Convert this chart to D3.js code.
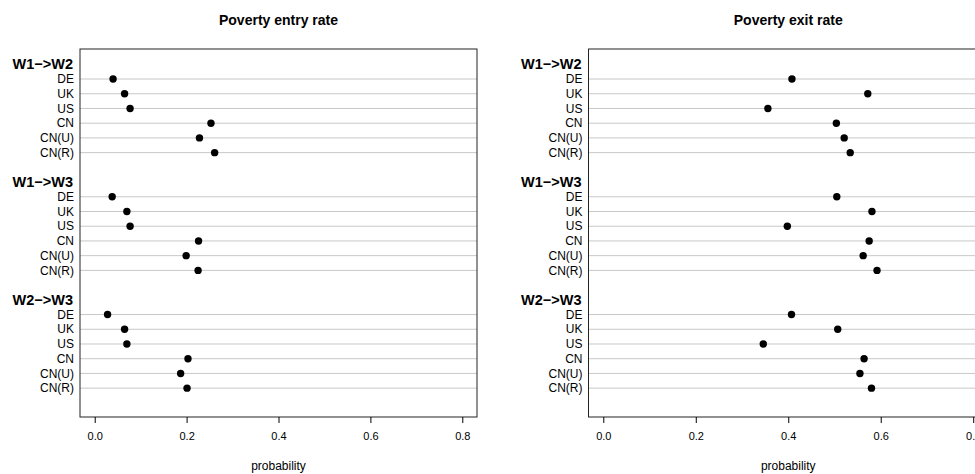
<!DOCTYPE html>
<meta charset="utf-8">
<style>
body { margin: 0; background: #fff; }
svg { font-family: "Liberation Sans", Arial, sans-serif; }
.tick text { font-size: 11px; fill: #000; }
.tick line { stroke: #000; }
</style>
<svg width="975" height="474"></svg>
<script src="https://cdn.jsdelivr.net/npm/d3@7"></script>
<script>

// groups and the countries inside each group (top to bottom)
var groups = ["W1\u2212>W2", "W1\u2212>W3", "W2\u2212>W3"];
var countries = ["DE", "UK", "US", "CN", "CN(U)", "CN(R)"];
var xTicks = [0, 0.2, 0.4, 0.6, 0.8];

// poverty entry rate, one array per group
var entryW1W2 = [0.040, 0.065, 0.077, 0.253, 0.228, 0.261];
var entryW1W3 = [0.038, 0.070, 0.077, 0.226, 0.199, 0.225];
var entryW2W3 = [0.028, 0.065, 0.070, 0.203, 0.187, 0.201];

// poverty exit rate
var exitW1W2 = [0.408, 0.572, 0.356, 0.504, 0.521, 0.534];
var exitW1W3 = [0.505, 0.581, 0.398, 0.575, 0.562, 0.592];
var exitW2W3 = [0.407, 0.507, 0.346, 0.564, 0.555, 0.580];

var panels = [
  {title: "Poverty entry rate", series: [entryW1W2, entryW1W3, entryW2W3], left: 80, right: 477},
  {title: "Poverty exit rate", series: [exitW1W2, exitW1W3, exitW2W3], left: 588.5, right: 988}
];

var plotTop = 49, plotBottom = 417;
var svg = d3.select("svg");

// dotchart-style row positions: items 1..n from the bottom, 2 extra rows between groups
function rowPos(gi, ci) {
  var g = groups.length - 1 - gi;
  return g * (countries.length + 2) + (countries.length - ci);
}

var y = d3.scaleLinear().domain([-0.96, 24.04]).range([plotBottom, plotTop]);

panels.forEach(function(p) {
  var x = d3.scaleLinear().domain([-0.032, 0.832]).range([p.left, p.right]);
  var g = svg.append("g");

  groups.forEach(function(grp, gi) {
    // grid lines
    g.selectAll(null)
      .data(countries)
      .enter().append("line")
      .attr("x1", p.left).attr("x2", p.right)
      .attr("y1", (d, ci) => y(rowPos(gi, ci)))
      .attr("y2", (d, ci) => y(rowPos(gi, ci)))
      .attr("stroke", "#c8c8c8")
      .attr("stroke-width", 1);

    g.selectAll(null)
      .data(countries)
      .enter().append("text")
      .attr("x", p.left - 6)
      .attr("y", (d, ci) => y(rowPos(gi, ci)))
      .attr("dy", "0.35em")
      .attr("text-anchor", "end")
      .attr("font-size", "12px")
      .text(d => d);

    g.append("text")
      .attr("x", p.left - 7)
      .attr("y", y(rowPos(gi, 0) + 1))
      .attr("dy", "0.35em")
      .attr("text-anchor", "end")
      .attr("font-size", "14.5px")
      .attr("font-weight", "bold")
      .text(grp);

    g.selectAll(null)
      .data(p.series[gi])
      .enter().append("circle")
      .attr("cx", d => x(d))
      .attr("cy", (d, ci) => y(rowPos(gi, ci)))
      .attr("r", 3.7)
      .attr("fill", "#000");
  });

  // box
  g.append("rect")
    .attr("x", p.left).attr("y", plotTop)
    .attr("width", p.right - p.left).attr("height", plotBottom - plotTop)
    .attr("fill", "none").attr("stroke", "#222").attr("stroke-width", 1);

  // x axis
  var axis = g.append("g")
    .attr("transform", "translate(0," + plotBottom + ")")
    .call(d3.axisBottom(x).tickValues(xTicks).tickFormat(d3.format(".1f")).tickSize(6).tickPadding(9));
  axis.select(".domain").remove();

  g.append("text")
    .attr("x", (p.left + p.right) / 2)
    .attr("y", 20)
    .attr("dy", "0.35em")
    .attr("text-anchor", "middle")
    .attr("font-size", "14px")
    .attr("font-weight", "bold")
    .text(p.title);

  g.append("text")
    .attr("x", x(0.4))
    .attr("y", 466)
    .attr("dy", "0.35em")
    .attr("text-anchor", "middle")
    .attr("font-size", "12px")
    .text("probability");
});

</script>
